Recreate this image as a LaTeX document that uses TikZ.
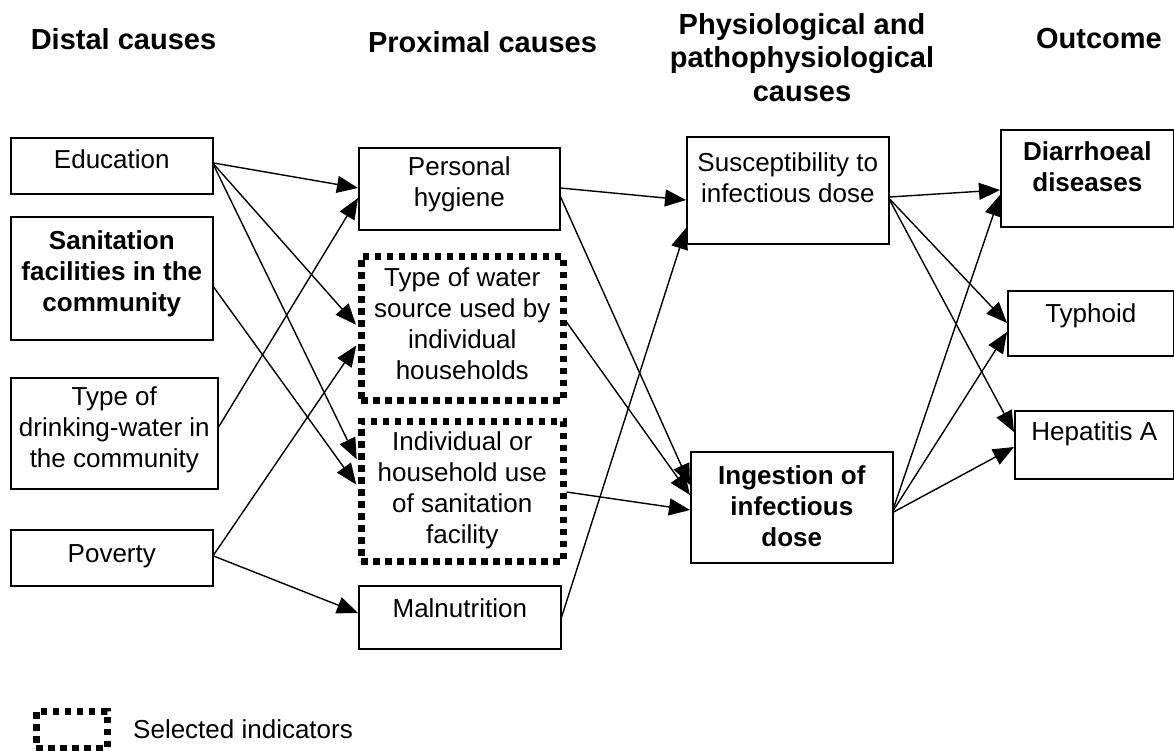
\documentclass[tikz,border=0pt]{standalone}
\usepackage{fontspec}
\setmainfont{Liberation Sans}
\usetikzlibrary{arrows.meta}
\newcommand{\cellbox}[4][31]{\parbox[c][#3pt][t]{#2pt}{\centering\rule{0pt}{#1pt}#4}}

\begin{document}
\begin{tikzpicture}[x=1pt, y=-1pt,
    box/.style={draw, line width=1.6pt, inner sep=0pt, anchor=north west, font=\fontsize{26}{31}\selectfont},
    keybox/.style={box, font=\fontsize{26}{31}\selectfont\bfseries},
    sel/.style={box, line width=6.5pt, dash pattern=on 6.5pt off 5.5pt},
    head/.style={inner sep=0pt, anchor=north, align=center, font=\fontsize{29}{33.5}\selectfont\bfseries},
    arr/.style={-{Triangle[length=21pt, width=17pt]}, line width=1.4pt}
]
\useasboundingbox (0,0) rectangle (1174,751);

% column headings
\node[head] (hdistal) at (123.5,28) {Distal causes};
\node[head] (hproximal) at (482.5,31) {Proximal causes};
\node[head] (hphysio) at (802,13) {Physiological and\\pathophysiological\\causes};
\node[head] (houtcome) at (1099,28) {Outcome};

% distal causes
\node[box] (edu) at (10,137) {\cellbox{202}{56}{Education}};
\node[keybox] (san) at (10,216) {\cellbox[33]{202}{123}{Sanitation\\facilities in the\\community}};
\node[box] (dw) at (10,377) {\cellbox[28]{207}{111}{Type of\\drinking-water in\\the community}};
\node[box] (pov) at (10,529) {\cellbox[33]{202}{56}{Poverty}};

% proximal causes
\node[box] (ph) at (358,147) {\cellbox[28]{201}{82}{Personal\\hygiene}};
\node[sel] (ws) at (358,253) {\cellbox[30]{202}{144}{Type of water\\source used by\\individual\\households}};
\node[sel] (ih) at (358,418) {\cellbox[29]{202}{140}{Individual or\\household use\\of sanitation\\facility}};
\node[box] (mal) at (358,585) {\cellbox[32]{202}{63}{Malnutrition}};

% physiological and pathophysiological causes
\node[box] (sus) at (686,136) {\cellbox[35]{202}{107}{Susceptibility to\\infectious dose}};
\node[keybox] (ing) at (690,451) {\cellbox[33]{202}{111}{Ingestion of\\infectious\\dose}};

% outcome
\node[keybox] (dia) at (1000,129) {\cellbox{173}{97}{Diarrhoeal\\diseases}};
\node[box] (typ) at (1007,290) {\cellbox[32]{166}{65}{Typhoid}};
\node[box] (hep) at (1014,410) {\cellbox[30]{159}{68}{Hepatitis A}};

% legend
\node[sel, minimum width=71pt, minimum height=37pt] (legbox) at (33,708) {};
\node[anchor=base west, inner sep=0pt, font=\fontsize{26}{31}\selectfont] (legtext) at (133,738) {Selected indicators};

% distal -> proximal
\draw[arr] ([yshift=-26pt]edu.north east) -- ([yshift=-41pt]ph.north west);
\draw[arr, shorten >=3pt] ([yshift=-27pt]edu.north east) -- ([yshift=-74pt]ws.north west);
\draw[arr, shorten >=3pt] ([yshift=-28pt]edu.north east) -- ([yshift=-44pt]ih.north west);
\draw[arr, shorten >=3pt] ([yshift=-71pt]san.north east) -- ([yshift=-69pt]ih.north west);
\draw[arr] ([yshift=-50pt]dw.north east) -- ([yshift=-51pt]ph.north west);
\draw[arr, shorten >=3pt] ([yshift=-26pt]pov.north east) -- ([yshift=-90pt]ws.north west);
\draw[arr] ([yshift=-27pt]pov.north east) -- ([yshift=-28pt]mal.north west);

% proximal -> physiological
\draw[arr] ([yshift=-41pt]ph.north east) -- ([yshift=-64pt]sus.north west);
\draw[arr] ([yshift=-50pt]ph.north east) -- ([yshift=-34pt]ing.north west);
\draw[arr] ([yshift=-69pt]ws.north east) -- ([yshift=-44pt]ing.north west);
\draw[arr] ([yshift=-74pt]ih.north east) -- ([yshift=-59pt]ing.north west);
\draw[arr] ([yshift=-32pt]mal.north east) -- ([yshift=-92pt]sus.north west);

% physiological -> outcome
\draw[arr] ([yshift=-61pt]sus.north east) -- ([yshift=-61pt]dia.north west);
\draw[arr] ([yshift=-63pt]sus.north east) -- ([yshift=-33pt]typ.north west);
\draw[arr] ([yshift=-64pt]sus.north east) -- ([yshift=-22pt]hep.north west);
\draw[arr] ([yshift=-57pt]ing.north east) -- ([yshift=-66pt]dia.north west);
\draw[arr] ([yshift=-59pt]ing.north east) -- ([yshift=-42pt]typ.north west);
\draw[arr] ([yshift=-61pt]ing.north east) -- ([yshift=-37pt]hep.north west);
\end{tikzpicture}
\end{document}
